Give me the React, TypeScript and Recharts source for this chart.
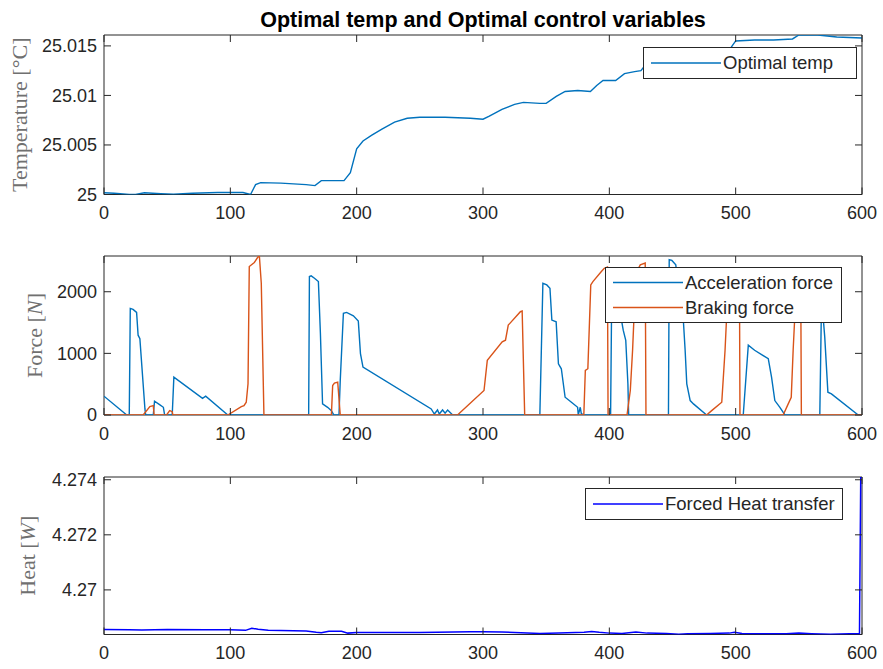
import { LineChart, Line, XAxis, YAxis, Legend, ReferenceArea } from 'recharts'

// time axis (s)
const timeTicks = [0, 100, 200, 300, 400, 500, 600]

// Optimal temp [t, degC]
const tempPoints: [number, number][] = [
  [0, 25.00017], [8, 25.00012], [20, 25.0], [25, 25.0], [32, 25.00017], [45, 25.00008],
  [55, 25.00003], [70, 25.00012], [90, 25.0002], [110, 25.0002], [116, 25.0], [120, 25.001],
  [124, 25.0012], [140, 25.00115], [160, 25.001], [167, 25.0009], [172, 25.0014], [190, 25.0014],
  [195, 25.0022], [200, 25.0046], [205, 25.0054], [212, 25.006], [220, 25.0066], [230, 25.0073],
  [240, 25.0077], [250, 25.0078], [270, 25.0078], [290, 25.0077], [300, 25.0076], [305, 25.0079],
  [315, 25.0086], [325, 25.0091], [332, 25.0093], [345, 25.0092], [350, 25.0092], [358, 25.0099],
  [365, 25.0104], [375, 25.0105], [385, 25.0104], [390, 25.011], [395, 25.0115], [405, 25.0115],
  [412, 25.0122], [420, 25.0124], [425, 25.0125], [430, 25.0133], [440, 25.0136], [455, 25.0139],
  [470, 25.0141], [485, 25.0143], [495, 25.0146], [500, 25.0155], [515, 25.0156], [530, 25.0156],
  [545, 25.0157], [550, 25.0161], [565, 25.0161], [580, 25.0159], [600, 25.0158],
]
const tempTicks = [25, 25.005, 25.01, 25.015]

// Acceleration force [t, N]
const accelPoints: [number, number][] = [
  [0, 305], [18, 0], [20, 0], [20.8, 1730], [23, 1714], [25.8, 1665], [27, 1295], [28.4, 1240],
  [32.4, 98], [33, 0], [39, 0], [40, 223], [44, 169], [47, 125], [48, 0], [54, 0], [55.3, 615],
  [78, 270], [80.5, 305], [98, 0], [162, 0], [162.6, 2247], [164, 2258], [166.6, 2220],
  [169.7, 2165], [171.3, 1322], [173, 180], [177, 125], [180, 71], [182, 0], [186, 0], [187, 560],
  [189.5, 1650], [192, 1665], [197.4, 1610], [201.3, 1523], [203, 996], [205, 778], [259, 98],
  [261.5, 16], [264, 82], [265.4, 16], [268, 82], [270, 30], [272, 82], [276, 0], [345, 0],
  [347.4, 2138], [350.5, 2111], [353, 2057], [354.5, 1540], [357.9, 1512], [359.7, 832], [362, 750],
  [365, 288], [370, 207], [374.9, 125], [375.4, 0], [377, 125], [378, 0], [379, 16], [380, 0],
  [401, 0], [402, 2200], [408, 2150], [410, 1496], [411, 1376], [413, 1213], [414.7, 506],
  [415.3, 0], [446.8, 0], [447.4, 2519], [449.5, 2508], [452.6, 2437], [455, 2000], [458.7, 1496],
  [460, 1050], [461.3, 506], [464, 234], [466.6, 180], [477, 0], [506, 0], [510, 1132], [515, 1050],
  [525.8, 914], [528.4, 615], [531, 234], [535, 125], [539, 0], [566.6, 0], [568, 1900],
  [570.5, 1268], [573, 370], [575.8, 343], [597, 0], [600, 0],
]

// Braking force [t, N]
const brakePoints: [number, number][] = [
  [0, 0], [31, 0], [36.3, 136], [39, 152], [39.7, 0], [49.5, 0], [52, 71], [54, 54], [54.5, 0],
  [98, 0], [108.7, 136], [110.8, 152], [112.6, 207], [114, 506], [115, 2410], [119, 2475],
  [121.8, 2562], [123, 2578], [124.5, 2138], [126.6, 0], [180, 0], [181, 479], [182.4, 517],
  [185, 533], [187, 0], [279.8, 0], [300.8, 397], [303.4, 887], [315.2, 1186], [317.8, 1213],
  [320, 1458], [329.6, 1676], [331, 1687], [333, 0], [379.8, 0], [381, 724], [383, 751],
  [385.3, 2111], [387, 2165], [393.7, 2329], [396, 2380], [398.5, 2400], [399, 0], [414, 0],
  [416.6, 397], [418.4, 1050], [421, 2300], [424.5, 2437], [428.4, 2465], [429, 0], [477, 0],
  [481, 71], [489, 207], [491.6, 1050], [494, 2100], [503, 2200], [503.4, 0], [537.6, 0],
  [541.6, 180], [544, 288], [545.5, 1050], [548, 2100], [551.5, 2200], [552, 0], [600, 0],
]
const forceTicks = [0, 1000, 2000]

// Forced heat transfer [t, W]
const heatPoints: [number, number][] = [
  [0, 4.26856], [20, 4.26855], [30, 4.26854], [50, 4.26856], [80, 4.26855], [100, 4.26855],
  [112, 4.26853], [117, 4.26861], [122, 4.26857], [130, 4.26853], [160, 4.26851], [168, 4.26846],
  [172, 4.26844], [178, 4.2685], [188, 4.2685], [193, 4.26843], [200, 4.26845], [250, 4.26845],
  [290, 4.26848], [300, 4.26848], [315, 4.26847], [330, 4.26844], [345, 4.26842], [360, 4.26843],
  [380, 4.26846], [386, 4.26849], [392, 4.26846], [400, 4.26843], [410, 4.26842], [421, 4.26847],
  [430, 4.26843], [445, 4.26842], [455, 4.26839], [462, 4.26841], [480, 4.26842], [495, 4.26843],
  [499, 4.26846], [505, 4.26842], [520, 4.26841], [540, 4.26841], [550, 4.26843], [560, 4.26841],
  [575, 4.26839], [590, 4.26841], [598, 4.26841], [599, 4.2741], [600, 4.2741],
]
const heatTicks = [4.27, 4.272, 4.274]

const toRows = (pts: [number, number][]) => pts.map(([t, v]) => ({ t, v }))

const AXIS = '#262626'
const SANS = '"Liberation Sans", Arial, Helvetica, sans-serif'
const SERIF = '"Liberation Serif", "DejaVu Serif", serif'
const PLOT_LEFT = 104
const PLOT_RIGHT = 862
const PLOT_W = PLOT_RIGHT - PLOT_LEFT
const TICK_LEN = 7
const X_MARGIN = 12
const Y_MARGIN = 7
const Y_AXIS_W = 90
const X_AXIS_H = 30

// matlab style: labels outside, tick marks inside on both sides
const xTick = (plotH: number) => (props: any) => {
  const { x, y, payload } = props
  const base = y - X_MARGIN
  return (
    <g>
      <line x1={x} x2={x} y1={base} y2={base - TICK_LEN} stroke={AXIS} />
      <line x1={x} x2={x} y1={base - plotH} y2={base - plotH + TICK_LEN} stroke={AXIS} />
      <text x={x} y={y} dy="0.72em" textAnchor="middle" fill={AXIS} fontSize={18} fontFamily={SANS}>
        {payload.value}
      </text>
    </g>
  )
}

const yTick = (props: any) => {
  const { x, y, payload } = props
  const base = x + Y_MARGIN
  return (
    <g>
      <line x1={base} x2={base + TICK_LEN} y1={y} y2={y} stroke={AXIS} />
      <line x1={base + PLOT_W} x2={base + PLOT_W - TICK_LEN} y1={y} y2={y} stroke={AXIS} />
      <text x={x} y={y} dy="0.36em" textAnchor="end" fill={AXIS} fontSize={18} fontFamily={SANS}>
        {String(payload.value)}
      </text>
    </g>
  )
}

const yLabel = (main: string, unit: string, italic: boolean, cx: number) => (props: any) => {
  const { viewBox } = props
  const cy = viewBox.y + viewBox.height / 2
  return (
    <text
      x={cx}
      y={cy}
      transform={`rotate(-90 ${cx} ${cy})`}
      textAnchor="middle"
      dy="0.35em"
      fill="#707070"
      fontSize={22}
      fontFamily={SERIF}
    >
      {main} [<tspan fontStyle={italic ? 'italic' : 'normal'}>{unit}</tspan>]
    </text>
  )
}

const legendContent = (width: number, rowH: number) => (props: any) => (
  <div
    style={{
      width,
      boxSizing: 'border-box',
      background: '#fff',
      border: `1px solid ${AXIS}`,
      padding: '2px 0',
      fontFamily: SANS,
    }}
  >
    {(props.payload || []).map((p: any) => (
      <div key={p.value} style={{ display: 'flex', alignItems: 'center', height: rowH }}>
        <svg width={79} height={rowH} style={{ display: 'block', flex: 'none' }}>
          <line x1={7} x2={77} y1={rowH / 2} y2={rowH / 2} stroke={p.color} strokeWidth={1.4} />
        </svg>
        <span style={{ fontSize: 18.5, color: AXIS, whiteSpace: 'nowrap', lineHeight: `${rowH}px` }}>
          {p.value}
        </span>
      </div>
    ))}
  </div>
)

interface Series {
  name: string
  color: string
  points: [number, number][]
  width?: number
}

interface PanelProps {
  top: number
  plotTop: number
  plotBottom: number
  domain: [number, number]
  ticks: number[]
  label: (props: any) => any
  legend: { left: number; top: number; width: number; rowH: number }
  series: Series[]
}

function Panel({ top, plotTop, plotBottom, domain, ticks, label, legend, series }: PanelProps) {
  const height = plotBottom - top + X_AXIS_H + 4
  const plotH = plotBottom - plotTop
  return (
    <div style={{ position: 'absolute', left: 0, top }}>
      <LineChart
        width={883}
        height={height}
        margin={{ top: plotTop - top, right: 883 - PLOT_RIGHT, bottom: 4, left: PLOT_LEFT - Y_AXIS_W }}
      >
        <XAxis
          dataKey="t"
          type="number"
          domain={[0, 600]}
          ticks={timeTicks}
          interval={0}
          allowDataOverflow
          height={X_AXIS_H}
          axisLine={false}
          tickLine={false}
          tickSize={0}
          tickMargin={X_MARGIN}
          tick={xTick(plotH)}
        />
        <YAxis
          type="number"
          domain={domain}
          ticks={ticks}
          interval={0}
          allowDataOverflow
          width={Y_AXIS_W}
          axisLine={false}
          tickLine={false}
          tickSize={0}
          tickMargin={Y_MARGIN}
          tick={yTick}
          label={label}
        />
        <ReferenceArea
          x1={0}
          x2={600}
          y1={domain[0]}
          y2={domain[1]}
          fill="none"
          fillOpacity={0}
          stroke={AXIS}
          strokeWidth={1}
        />
        {series.map((s) => (
          <Line
            key={s.name}
            data={toRows(s.points)}
            dataKey="v"
            name={s.name}
            type="linear"
            stroke={s.color}
            strokeWidth={s.width ?? 1.4}
            dot={false}
            activeDot={false}
            isAnimationActive={false}
          />
        ))}
        <Legend
          layout="vertical"
          align="center"
          verticalAlign="middle"
          content={legendContent(legend.width, legend.rowH)}
          wrapperStyle={{
            top: legend.top,
            left: legend.left,
            right: 'auto',
            bottom: 'auto',
            width: legend.width,
            height: 'auto',
          }}
        />
      </LineChart>
    </div>
  )
}

export default function App() {
  return (
    <div
      style={{
        position: 'absolute',
        left: 0,
        top: 0,
        width: 883,
        height: 669,
        background: '#fff',
        fontFamily: SANS,
      }}
    >
      <div
        style={{
          position: 'absolute',
          top: 8,
          left: PLOT_LEFT,
          width: PLOT_W,
          textAlign: 'center',
          fontWeight: 'bold',
          fontSize: 21.5,
          color: '#000',
        }}
      >
        Optimal temp and Optimal control variables
      </div>
      <Panel
        top={0}
        plotTop={35}
        plotBottom={194.5}
        domain={[25, 25.0161]}
        ticks={tempTicks}
        label={yLabel('Temperature', '°C', false, 19)}
        legend={{ left: 643, top: 47, width: 214, rowH: 26 }}
        series={[{ name: 'Optimal temp', color: '#0072BD', points: tempPoints }]}
      />
      <Panel
        top={228}
        plotTop={256}
        plotBottom={415}
        domain={[0, 2580]}
        ticks={forceTicks}
        label={yLabel('Force', 'N', true, 34)}
        legend={{ left: 605, top: 267 - 228, width: 237, rowH: 25 }}
        series={[
          { name: 'Acceleration force', color: '#0072BD', points: accelPoints },
          { name: 'Braking force', color: '#D95319', points: brakePoints },
        ]}
      />
      <Panel
        top={450}
        plotTop={477}
        plotBottom={634.5}
        domain={[4.26838, 4.2741]}
        ticks={heatTicks}
        label={yLabel('Heat', 'W', true, 27)}
        legend={{ left: 585, top: 488 - 450, width: 258, rowH: 26 }}
        series={[{ name: 'Forced Heat transfer', color: '#0000FF', points: heatPoints, width: 1.5 }]}
      />
    </div>
  )
}
